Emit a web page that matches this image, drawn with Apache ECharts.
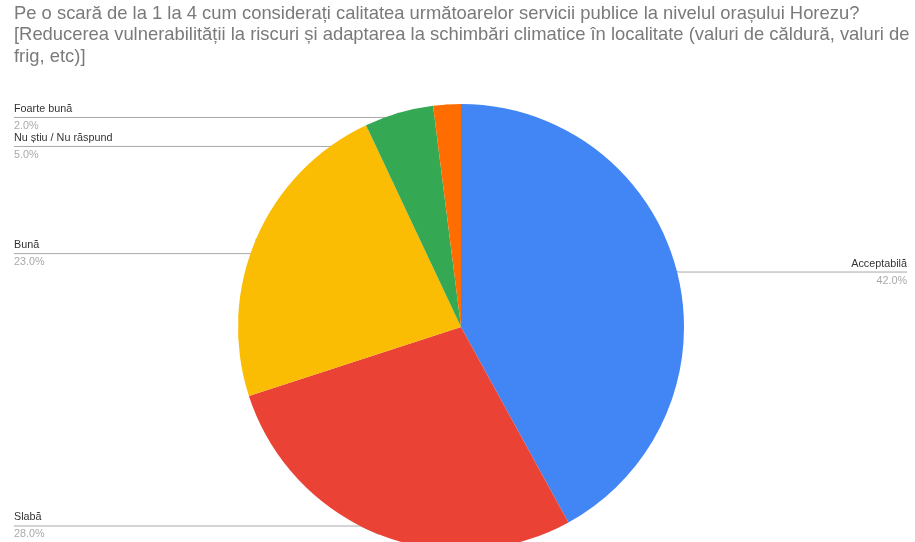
<!DOCTYPE html>
<html>
<head>
<meta charset="utf-8">
<script src="https://cdn.jsdelivr.net/npm/echarts@6/dist/echarts.min.js"></script>
<style>
html,body{margin:0;padding:0;background:#fff;}
#chart{width:915px;height:542px;}
</style>
</head>
<body>
<div id="chart"></div>
<script>
const titleText = 'Pe o scară de la 1 la 4 cum considerați calitatea următoarelor servicii publice la nivelul orașului Horezu?\n[Reducerea vulnerabilității la riscuri și adaptarea la schimbări climatice în localitate (valuri de căldură, valuri de\nfrig, etc)]';
const categories = ['Acceptabilă', 'Slabă', 'Bună', 'Nu știu / Nu răspund', 'Foarte bună'];
const values = [42.0, 28.0, 23.0, 5.0, 2.0];
const colors = ['#4285F4', '#EA4335', '#FBBC04', '#34A853', '#FF6D01'];
// small vertical nudges of the label lines (layout only)
const labelNudge = [1, -1, 18, 14, 15];

const CX = 461, CY = 327;
const chart = echarts.init(document.getElementById('chart'), null, {renderer: 'canvas'});
const data = categories.map((c, i) => ({name: c, value: values[i], itemStyle: {color: colors[i]}}));
data[0].label = {edgeDistance: 8};

chart.setOption({
  animation: false,
  backgroundColor: '#ffffff',
  title: {
    text: titleText,
    left: 14,
    top: 3,
    padding: 0,
    textStyle: {
      fontFamily: 'Liberation Sans, Arial, sans-serif',
      fontSize: 18.4,
      fontWeight: 'normal',
      color: '#7a7a7a',
      lineHeight: 21.5
    }
  },
  series: [{
    type: 'pie',
    center: [CX, CY],
    radius: 223,
    startAngle: 90,
    clockwise: true,
    data: data,
    label: {
      show: true,
      alignTo: 'edge',
      edgeDistance: 14,
      formatter: p => '{n|' + p.name + '}\n{p|' + p.percent.toFixed(1) + '%}',
      rich: {
        n: {fontFamily: 'Liberation Sans, Arial, sans-serif', fontSize: 10.8, color: '#333333', lineHeight: 14, verticalAlign: 'top'},
        p: {fontFamily: 'Liberation Sans, Arial, sans-serif', fontSize: 10.8, color: '#aaaaaa', lineHeight: 14, verticalAlign: 'bottom'}
      }
    },
    labelLine: {
      show: true,
      length: 2,
      length2: 10,
      smooth: false,
      lineStyle: {color: '#a8a8a8', width: 1}
    },
    labelLayout: function (params) {
      const r = params.labelRect;
      const pts = params.labelLinePoints;
      if (!pts) return {};
      const dy = labelNudge[params.dataIndex] || 0;
      const left = r.x + r.width / 2 < CX;
      const endX = left ? r.x : r.x + r.width;
      const y = pts[2][1] + dy;
      return {
        dy: dy,
        labelLinePoints: [pts[0], [pts[1][0], y], [endX, y]]
      };
    }
  }]
});
</script>
</body>
</html>
